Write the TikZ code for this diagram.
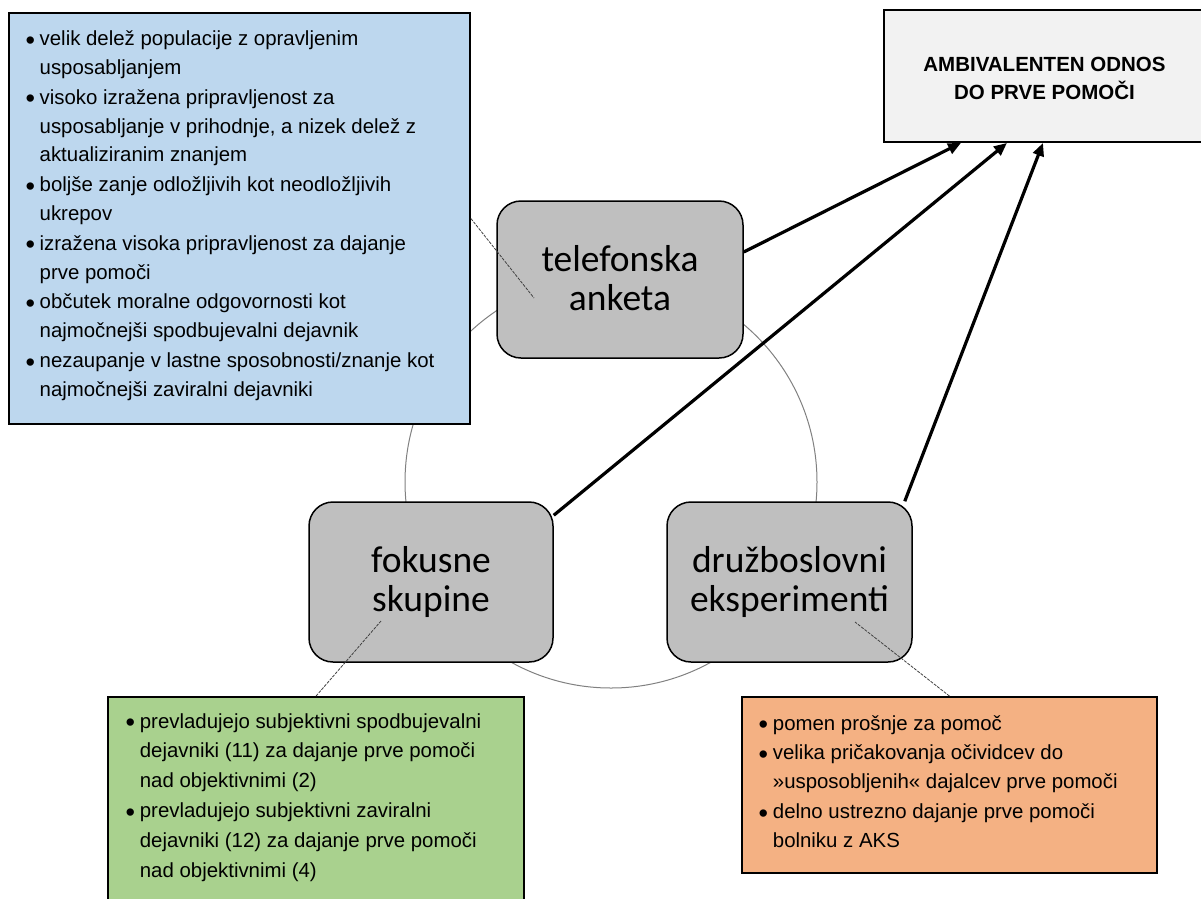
\documentclass[tikz,border=0pt]{standalone}
\usepackage{fontspec}
\setmainfont{Liberation Sans}
\newfontfamily\labelfont{Carlito}
\usetikzlibrary{arrows.meta,backgrounds}
\definecolor{noteblue}{HTML}{BDD7EE}
\definecolor{notegreen}{HTML}{A9D18E}
\definecolor{noteorange}{HTML}{F4B183}
\definecolor{methodgray}{HTML}{BFBFBF}
\definecolor{resultgray}{HTML}{F2F2F2}
% bullet and hanging indent for list lines
\newcommand\bul{\makebox[14.2pt][l]{\raisebox{-3.6pt}{\fontsize{27}{27}\selectfont\textbullet}}}
\newcommand\hangi{\hspace*{14.2pt}}
\begin{document}
\begin{tikzpicture}[x=1pt,y=-1pt,
  notebox/.style={draw=black, line width=1.8pt, inner sep=0pt},
  method/.style={draw=black, line width=1.5pt, fill=methodgray, rounded corners=24pt, inner sep=0pt},
  notetext/.style={anchor=base west, inner sep=0pt},
  methodtext/.style={anchor=base, inner sep=0pt, font=\labelfont\fontsize{37.5}{39}\selectfont},
  flow/.style={line width=3.2pt, -{Triangle[length=13pt,width=11pt]}},
  callout/.style={draw=black!75, line width=0.8pt, dash pattern=on 3pt off 1.2pt},
  ring/.style={circle, draw=black!50, line width=1pt, minimum size=412pt, inner sep=0pt}]
\useasboundingbox (0,0) rectangle (1201,898);
\clip (0,0) rectangle (1201,898);

% boxes
\node[notebox, fill=noteblue, minimum width=461pt, minimum height=411pt] (blue) at (239.5,218.5) {};
\node[notebox, fill=resultgray, minimum width=321pt, minimum height=132pt] (amb) at (1044.5,76) {};
\node[notebox, fill=notegreen, minimum width=416pt, minimum height=212pt] (green) at (316,803) {};
\node[notebox, fill=noteorange, minimum width=415pt, minimum height=176pt] (orange) at (949.5,785) {};
\node[method, minimum width=246pt, minimum height=157pt] (tel) at (620,279.5) {};
\node[method, minimum width=244pt, minimum height=160pt] (fok) at (431,582) {};
\node[method, minimum width=245pt, minimum height=160pt] (dru) at (789.5,582) {};

% ring and arrows behind the boxes
\begin{pgfonlayer}{background}
  \node[ring] (ring) at (611,482) {};
  \draw[flow] ([yshift=27.5pt]tel.east) -- ([xshift=-83.5pt]amb.south);
  \draw[flow] ([yshift=-14pt]fok.north east) -- ([xshift=-37.5pt]amb.south);
  \draw[flow] ([xshift=-8pt]dru.north east) -- ([xshift=-1.5pt]amb.south);
\end{pgfonlayer}

% callout lines
\coordinate (telpt) at (534,298);
\coordinate (fokpt) at (381,621);
\coordinate (drupt) at (855,622);
\draw[callout] (blue.east) -- (telpt);
\draw[callout] (green.north) -- (fokpt);
\draw[callout] (orange.north) -- (drupt);

% method labels
\node[methodtext] (teltext) at (620,271) {\parbox[t]{240pt}{\centering telefonska\\anketa}};
\node[methodtext] (foktext) at (431,572) {\parbox[t]{240pt}{\centering fokusne\\skupine}};
\node[methodtext] (drutext) at (789.5,572) {\parbox[t]{240pt}{\centering družboslovni\\eksperimenti}};

% result
\node[anchor=base, inner sep=0pt, font=\bfseries\fontsize{20.5}{27.5}\selectfont] (ambtext) at (1044.5,71.7)
  {\parbox[t]{300pt}{\centering AMBIVALENTEN ODNOS\\DO PRVE POMOČI}};

% findings
\node[notetext, font=\fontsize{20.4}{28.8}\selectfont] (bluetext) at (25.3,45.7) {\parbox[t]{440pt}{%
\bul velik delež populacije z opravljenim\\
\hangi usposabljanjem\\[1pt]
\bul visoko izražena pripravljenost za\\
\hangi usposabljanje v prihodnje, a nizek delež z\\
\hangi aktualiziranim znanjem\\[1pt]
\bul boljše zanje odložljivih kot neodložljivih\\
\hangi ukrepov\\[1pt]
\bul izražena visoka pripravljenost za dajanje\\
\hangi prve pomoči\\[1pt]
\bul občutek moralne odgovornosti kot\\
\hangi najmočnejši spodbujevalni dejavnik\\[1pt]
\bul nezaupanje v lastne sposobnosti/znanje kot\\
\hangi najmočnejši zaviralni dejavniki}};

\node[notetext, font=\fontsize{20.4}{29.8}\selectfont] (greentext) at (125.5,728) {\parbox[t]{395pt}{%
\bul prevladujejo subjektivni spodbujevalni\\
\hangi dejavniki (11) za dajanje prve pomoči\\
\hangi nad objektivnimi (2)\\
\bul prevladujejo subjektivni zaviralni\\
\hangi dejavniki (12) za dajanje prve pomoči\\
\hangi nad objektivnimi (4)}};

\node[notetext, font=\fontsize{20.4}{28.8}\selectfont] (orangetext) at (758.5,730) {\parbox[t]{395pt}{%
\bul pomen prošnje za pomoč\\[1pt]
\bul velika pričakovanja očividcev do\\
\hangi »usposobljenih« dajalcev prve pomoči\\[1pt]
\bul delno ustrezno dajanje prve pomoči\\
\hangi bolniku z AKS}};
\end{tikzpicture}
\end{document}
